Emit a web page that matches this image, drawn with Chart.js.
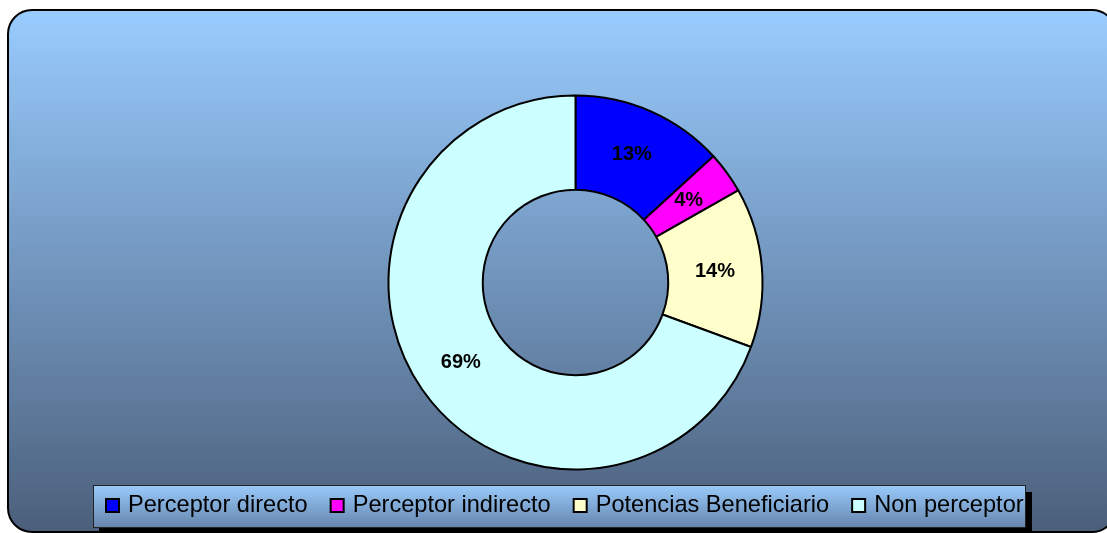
<!DOCTYPE html>
<html>
<head>
<meta charset="utf-8">
<script src="https://cdn.jsdelivr.net/npm/chart.js@4/dist/chart.umd.min.js"></script>
<style>
    html, body { margin: 0; padding: 0; background: #ffffff; }
    #wrap { width: 1107px; height: 533px; }
</style>
</head>
<body>
<div id="wrap"><canvas id="donut" width="1107" height="533"></canvas></div>
<script>
// --- DATA ---
const categories = ['Perceptor directo', 'Perceptor indirecto', 'Potencias Beneficiario', 'Non perceptor'];
const shares = [13.2, 3.6, 13.8, 69.4];
const sliceColors = ['#0000ff', '#ff00ff', '#ffffcc', '#ccffff'];

const FONT = '"Liberation Sans", Arial, sans-serif';

// rounded frame + gradient behind everything
const backdrop = {
    id: 'backdrop',
    beforeDraw(chart) {
        const ctx = chart.ctx;
        const x = 8, y = 10, w = 1108, h = 522, r = 24;
        ctx.save();
        const g = ctx.createLinearGradient(0, y, 0, y + h);
        g.addColorStop(0, '#99ccff');
        g.addColorStop(1, '#4b5f7b');
        ctx.beginPath();
        ctx.roundRect(x, y, w, h, r);
        ctx.fillStyle = g;
        ctx.fill();
        ctx.lineWidth = 2;
        ctx.strokeStyle = '#000000';
        ctx.stroke();
        ctx.restore();
    }
};

// percent labels on each slice
const sliceLabels = {
    id: 'sliceLabels',
    afterDatasetsDraw(chart) {
        const ctx = chart.ctx;
        const meta = chart.getDatasetMeta(0);
        const total = shares.reduce((a, b) => a + b, 0);
        ctx.save();
        ctx.font = 'bold 20px ' + FONT;
        ctx.fillStyle = '#000000';
        ctx.textAlign = 'center';
        ctx.textBaseline = 'middle';
        meta.data.forEach((arc, i) => {
            const p = arc.tooltipPosition();
            ctx.fillText(Math.round(shares[i] / total * 100) + '%', p.x, p.y);
        });
        ctx.restore();
    }
};

// boxed legend at the bottom
const boxLegend = {
    id: 'boxLegend',
    afterDraw(chart) {
        const ctx = chart.ctx;
        const bx = 93, by = 485, bw = 933, bh = 43;
        ctx.save();
        ctx.fillStyle = '#000000';
        ctx.fillRect(bx + 6, by + 7, bw, bh);
        const g = ctx.createLinearGradient(0, by, 0, by + bh);
        g.addColorStop(0, '#9acbfb');
        g.addColorStop(1, '#6584ad');
        ctx.fillStyle = g;
        ctx.fillRect(bx, by, bw, bh);
        ctx.lineWidth = 1;
        ctx.strokeStyle = '#222222';
        ctx.strokeRect(bx + 0.5, by + 0.5, bw - 1, bh - 1);

        ctx.font = '23.6px ' + FONT;
        ctx.textBaseline = 'alphabetic';
        ctx.textAlign = 'left';
        let x = 105;
        categories.forEach((name, i) => {
            ctx.fillStyle = sliceColors[i];
            ctx.fillRect(x + 1, 499, 13, 13);
            ctx.lineWidth = 2;
            ctx.strokeStyle = '#000000';
            ctx.strokeRect(x + 1, 499, 13, 13);
            ctx.fillStyle = '#000000';
            ctx.fillText(name, x + 23, 512);
            x += 23 + ctx.measureText(name).width + 22;
        });
        ctx.restore();
    }
};

new Chart(document.getElementById('donut'), {
    type: 'doughnut',
    data: {
        labels: categories,
        datasets: [{
            data: shares,
            backgroundColor: sliceColors,
            borderColor: '#000000',
            borderWidth: 2
        }]
    },
    options: {
        responsive: false,
        animation: false,
        radius: 187,
        cutout: 93,
        layout: { padding: { left: 44, right: 0, top: 94, bottom: 62 } },
        plugins: {
            legend: { display: false },
            tooltip: { enabled: false }
        }
    },
    plugins: [backdrop, sliceLabels, boxLegend]
});
</script>
</body>
</html>
